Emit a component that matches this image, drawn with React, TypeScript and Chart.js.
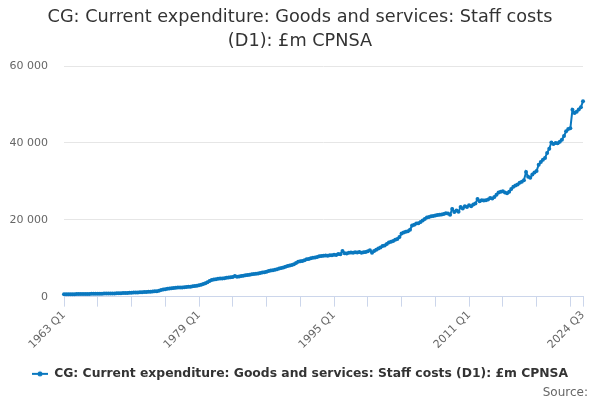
import React, { useEffect, useRef } from 'react';
import { Chart, registerables } from 'chart.js';

Chart.register(...registerables);

const seriesName = 'CG: Current expenditure: Goods and services: Staff costs (D1): £m CPNSA';
const titleLines = ['CG: Current expenditure: Goods and services: Staff costs', '(D1): £m CPNSA'];
const firstYear = 1963;

// quarterly values in £m, one row per year (1963 Q1 .. 2024 Q3)
const staffCosts: number[] = [
  600, 610, 620, 630,
  640, 650, 660, 670,
  680, 690, 700, 710,
  720, 730, 740, 750,
  760, 770, 780, 790,
  800, 810, 820, 830,
  850, 860, 880, 900,
  920, 950, 980, 1000,
  1030, 1060, 1090, 1110,
  1140, 1170, 1200, 1230,
  1260, 1300, 1340, 1380,
  1420, 1550, 1700, 1850,
  1950, 2050, 2150, 2200,
  2250, 2300, 2350, 2380,
  2400, 2450, 2500, 2550,
  2600, 2680, 2760, 2860,
  2950, 3100, 3300, 3500,
  3750, 4050, 4300, 4450,
  4550, 4650, 4700, 4750,
  4800, 4900, 5000, 5050,
  5100, 5400, 5200, 5250,
  5350, 5450, 5550, 5650,
  5700, 5800, 5900, 5950,
  6050, 6150, 6250, 6350,
  6500, 6650, 6800, 6900,
  7000, 7150, 7300, 7450,
  7600, 7800, 7950, 8100,
  8250, 8450, 8750, 9050,
  9200, 9300, 9500, 9700,
  9800, 10000, 10100, 10200,
  10300, 10500, 10600, 10650,
  10700, 10650, 10800, 10750,
  10900, 10850, 11100, 11000,
  11900, 11300, 11200, 11400,
  11500, 11450, 11550, 11500,
  11600, 11450, 11550, 11600,
  11800, 12050, 11400, 11900,
  12200, 12500, 12800, 13200,
  13300, 13700, 14100, 14300,
  14500, 14800, 15000, 15500,
  16400, 16700, 16900, 17000,
  17400, 18500, 18700, 19000,
  19100, 19400, 19800, 20200,
  20600, 20700, 20900, 21000,
  21100, 21250, 21300, 21400,
  21500, 21700, 21600, 21300,
  22800, 22000, 22400, 22100,
  23300, 22900, 23500, 23300,
  23800, 23500, 24000, 24200,
  25400, 24800, 25100, 25000,
  25100, 25300, 25660, 25500,
  25900, 26500, 27100, 27300,
  27400, 27100, 26900, 27300,
  28000, 28600, 28900, 29200,
  29600, 29900, 30300, 32400,
  31200, 30900, 31800, 32300,
  32700, 34300, 35000, 35600,
  36100, 37400, 38500, 40100,
  39700, 40000, 39900, 40300,
  40800, 41800, 43000, 43600,
  43800, 48600, 47800, 48100,
  48700, 49300, 50800,
];

const quarterLabels: string[] = staffCosts.map(
  (_, i) => `${firstYear + Math.floor(i / 4)} Q${(i % 4) + 1}`
);

const yTicks = [0, 20000, 40000, 60000];
const tickEvery = 16; // a tick mark every 4 years
const labelEvery = 64; // a label every 16 years

const lineColor = '#0a78bf';
const axisColor = '#ccd6eb';
const font = "'DejaVu Sans', Verdana, sans-serif";

const formatThousands = (v: number) => String(v).replace(/\B(?=(\d{3})+(?!\d))/g, ' ');

// little line-with-dot symbol for the legend
const makeLegendSymbol = () => {
  const c = document.createElement('canvas');
  c.width = 16;
  c.height = 8;
  const ctx = c.getContext('2d');
  if (ctx) {
    ctx.strokeStyle = lineColor;
    ctx.lineWidth = 2;
    ctx.beginPath();
    ctx.moveTo(0, 4);
    ctx.lineTo(16, 4);
    ctx.stroke();
    ctx.fillStyle = lineColor;
    ctx.beginPath();
    ctx.arc(8, 4, 2.5, 0, Math.PI * 2);
    ctx.fill();
  }
  return c;
};

const App = () => {
  const canvasRef = useRef<HTMLCanvasElement | null>(null);

  useEffect(() => {
    if (!canvasRef.current) return;
    const last = quarterLabels.length - 1;
    const symbol = makeLegendSymbol();

    const chart = new Chart(canvasRef.current, {
      type: 'line',
      data: {
        labels: quarterLabels,
        datasets: [{
          label: seriesName,
          data: staffCosts,
          borderColor: lineColor,
          backgroundColor: lineColor,
          borderWidth: 2,
          pointRadius: 2,
          pointHoverRadius: 3,
          pointBorderWidth: 0,
          tension: 0,
        }],
      },
      options: {
        animation: false,
        responsive: false,
        maintainAspectRatio: false,
        layout: { padding: { left: 0, right: 0, top: 0, bottom: 10 } },
        plugins: {
          title: {
            display: true,
            text: titleLines,
            color: '#333333',
            font: { family: font, size: 17.7, weight: 'normal', lineHeight: '24px' },
            padding: { top: 5, bottom: 13 },
          },
          legend: {
            position: 'bottom',
            labels: {
              color: '#333333',
              font: { family: font, size: 12.35, weight: 'bold' },
              usePointStyle: true,
              pointStyleWidth: 16,
              padding: 10,
              generateLabels: () => [{
                text: seriesName,
                pointStyle: symbol,
                fillStyle: lineColor,
                strokeStyle: lineColor,
                lineWidth: 0,
                datasetIndex: 0,
                fontColor: '#333333',
              }],
            },
          },
          tooltip: { enabled: false },
        },
        scales: {
          x: {
            type: 'category',
            border: { color: axisColor, width: 1 },
            grid: {
              drawOnChartArea: false,
              drawTicks: true,
              tickLength: 10,
              color: (ctx: any) =>
                ctx.index % tickEvery === 0 || ctx.index === last ? axisColor : 'rgba(0,0,0,0)',
            },
            ticks: {
              autoSkip: false,
              minRotation: 45,
              maxRotation: 45,
              padding: 2,
              color: '#666666',
              font: { family: font, size: 11 },
              callback: function (this: any, value: any, index: number) {
                return index % labelEvery === 0 || index === last ? this.getLabelForValue(value) : '';
              },
            },
            afterFit: (axis: any) => { axis.height = 61; },
          },
          y: {
            min: 0,
            max: 60000,
            border: { display: false },
            grid: { color: '#e6e6e6', drawTicks: false },
            afterBuildTicks: (axis: any) => { axis.ticks = yTicks.map((v) => ({ value: v })); },
            ticks: {
              padding: 16,
              color: '#666666',
              font: { family: font, size: 11 },
              callback: (v: any) => formatThousands(Number(v)),
            },
            afterFit: (axis: any) => { axis.width = 64; },
          },
          // empty right-hand gutter so the plot ends where the reference does
          gutter: {
            type: 'linear',
            position: 'right',
            display: true,
            border: { display: false },
            grid: { display: false },
            ticks: { display: false },
            afterFit: (axis: any) => { axis.width = 17; },
          },
        },
      },
    });

    return () => chart.destroy();
  }, []);

  return (
    <div style={{ position: 'absolute', left: 0, top: 0, width: 600, height: 400, background: '#fff' }}>
      <canvas ref={canvasRef} width={600} height={400} style={{ width: 600, height: 400 }} />
      <div
        style={{
          position: 'absolute',
          right: 12,
          top: 385,
          fontFamily: font,
          fontSize: 12,
          color: '#666666',
        }}
      >
        Source:
      </div>
    </div>
  );
};

export default App;
